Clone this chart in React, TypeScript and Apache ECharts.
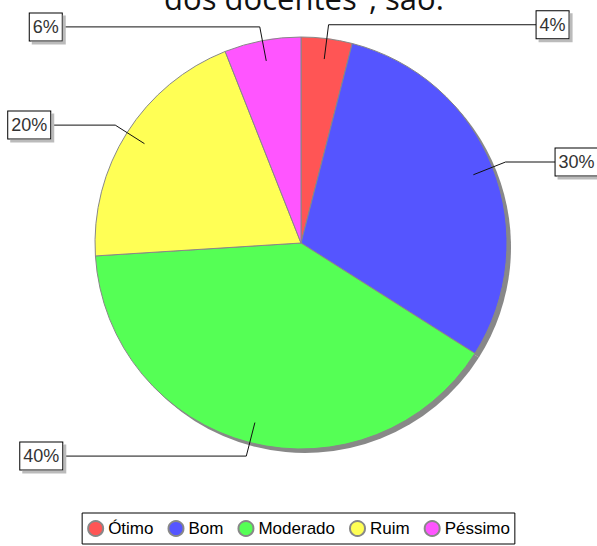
import React, { useEffect, useRef } from 'react';
import * as echarts from 'echarts';

const categories = ['Ótimo', 'Bom', 'Moderado', 'Ruim', 'Péssimo'];
const values = [4, 30, 40, 20, 6];
const colors = ['#ff5555', '#5555ff', '#55ff55', '#ffff55', '#ff55ff'];
const titleText = 'dos docentes", são:';
// horizontal leader segment lengths (styling, not data)
const leaderLength2 = [208, 50, 184, 65, 198];

export default function App() {
  const ref = useRef<HTMLDivElement>(null);
  useEffect(() => {
    document.body.style.margin = '0';
    const chart = echarts.init(ref.current!, null, { renderer: 'svg' });
    const cx = 301, cy = 243, r = 206;
    const labelFont = '"Liberation Sans", Arial, sans-serif';
    chart.setOption({
      animation: false,
      graphic: [
        {
          type: 'text',
          x: 304,
          y: -2,
          style: {
            text: titleText,
            font: '31px "Open Sans"',
            fill: '#111',
            textAlign: 'center',
            textVerticalAlign: 'middle',
          },
        },
      ],
      legend: {
        data: categories,
        bottom: 2,
        left: 'center',
        orient: 'horizontal',
        icon: 'circle',
        itemWidth: 15,
        itemHeight: 15,
        itemGap: 14,
        padding: [7, 5],
        borderColor: '#000',
        borderWidth: 1,
        textStyle: { fontSize: 17, fontFamily: labelFont, color: '#000' },
      },
      series: [
        {
          type: 'pie',
          name: 'main',
          z: 2,
          center: [cx, cy],
          radius: r,
          startAngle: 90,
          clockwise: true,
          emphasis: { disabled: true },
          itemStyle: { borderColor: '#888', borderWidth: 1 },
          data: categories.map((name, i) => ({
            name,
            value: values[i],
            itemStyle: { color: colors[i] },
          })),
          label: { show: false },
          labelLine: { show: false },
        },
        {
          type: 'pie',
          name: 'shadow',
          z: 1,
          silent: true,
          legendHoverLink: false,
          center: [cx + 4, cy + 4],
          radius: r,
          startAngle: 90,
          clockwise: true,
          emphasis: { disabled: true },
          data: categories.map((name, i) => ({ name, value: values[i] })),
          itemStyle: { color: '#888' },
          label: { show: false },
          labelLine: { show: false },
        },
        {
          type: 'pie',
          name: 'labels',
          z: 3,
          silent: true,
          legendHoverLink: false,
          center: [cx, cy],
          radius: r * 0.9,
          startAngle: 90,
          clockwise: true,
          avoidLabelOverlap: false,
          emphasis: { disabled: true },
          itemStyle: { color: 'rgba(0,0,0,0)', borderWidth: 0 },
          data: categories.map((name, i) => ({
            name,
            value: values[i],
            labelLine: { length2: leaderLength2[i] },
          })),
          label: {
            position: 'outside',
            alignTo: 'none',
            overflow: 'none',
            formatter: '{c}%',
            fontSize: 18,
            fontFamily: labelFont,
            color: '#333',
            backgroundColor: '#fff',
            borderColor: '#000',
            borderWidth: 1,
            padding: [5, 3, 4, 3],
            shadowColor: '#bbb',
            shadowOffsetX: 3,
            shadowOffsetY: 3,
            shadowBlur: 0,
            distanceToLabelLine: 0,
          },
          labelLine: {
            show: true,
            length: r * 0.1 + 14,
            smooth: false,
            lineStyle: { color: '#111', width: 1 },
          },
        },
      ],
    });
    return () => chart.dispose();
  }, []);
  return <div ref={ref} style={{ width: 597, height: 546 }} />;
}
